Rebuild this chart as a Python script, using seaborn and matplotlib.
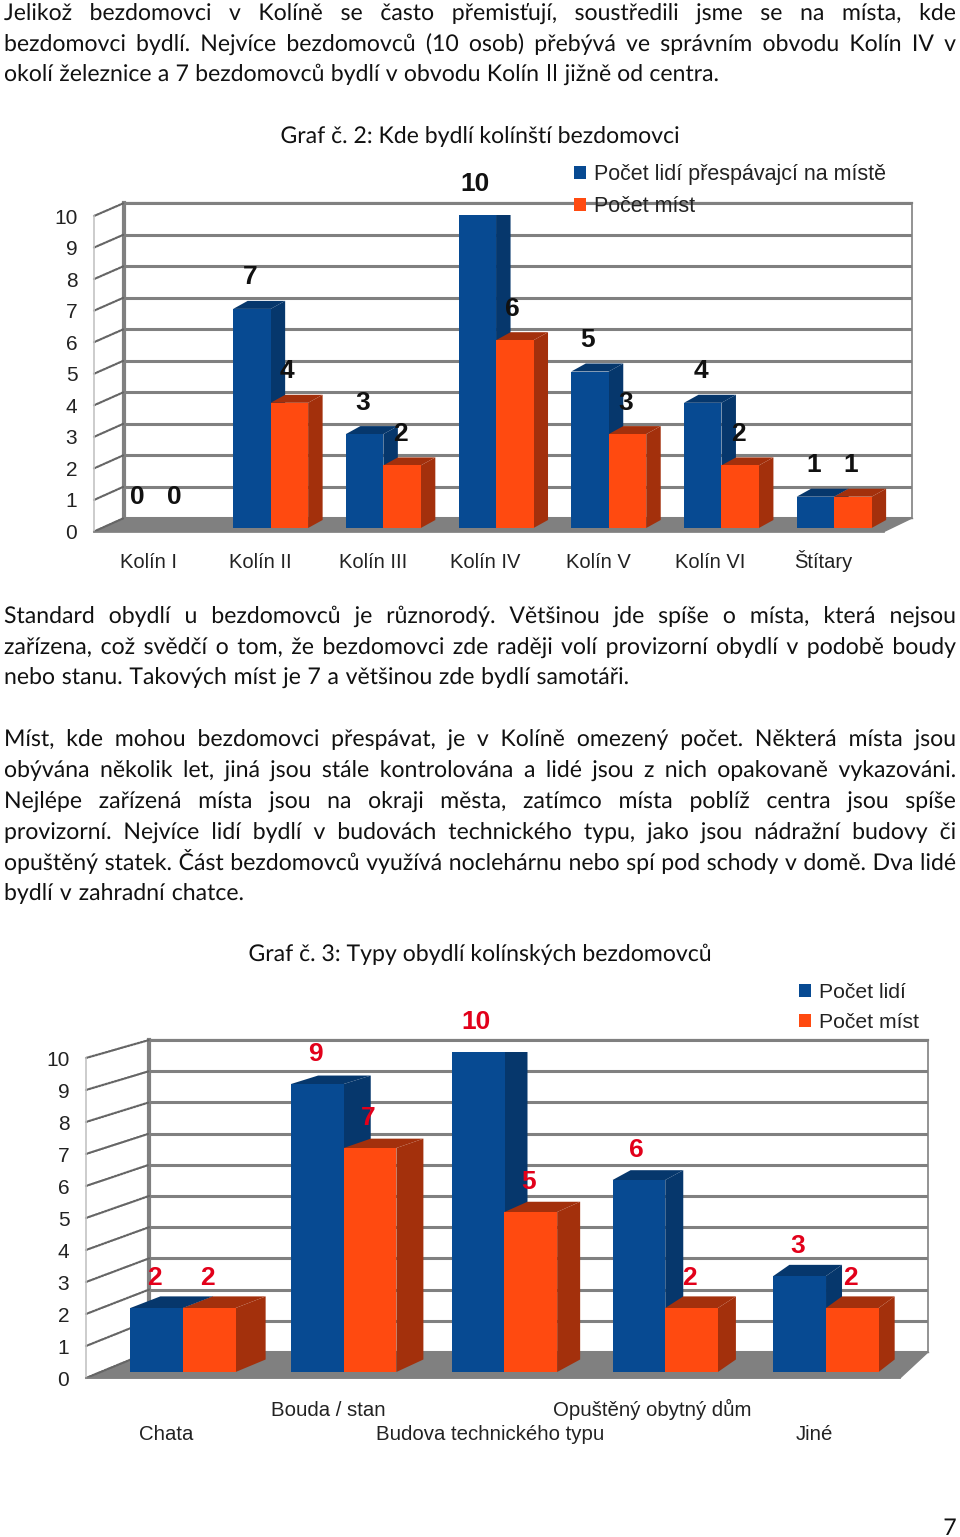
import matplotlib
matplotlib.use("Agg")
import matplotlib.pyplot as plt
import matplotlib.patheffects as pe
from matplotlib.patches import ConnectionPatch, Polygon
import pandas as pd
import seaborn as sns

# data of the two charts
kat_obvody = ["Kolín I", "Kolín II", "Kolín III", "Kolín IV", "Kolín V", "Kolín VI", "Štítary"]
lide_obvody = [0, 7, 3, 10, 5, 4, 1]
mista_obvody = [0, 4, 2, 6, 3, 2, 1]
serie_obvody = ["Počet lidí přespávajcí na místě", "Počet míst"]

kat_typy = ["Chata", "Bouda / stan", "Budova technického typu", "Opuštěný obytný dům", "Jiné"]
lide_typy = [2, 9, 10, 6, 3]
mista_typy = [2, 7, 5, 2, 2]
serie_typy = ["Počet lidí", "Počet míst"]

osa_y = list(range(11))

# page text: text, y of baseline, right end (None = justified to the margin)
radky = [
    ("Jelikož bezdomovci v Kolíně se často přemisťují, soustředili jsme se na místa, kde", 20, None),
    ("bezdomovci bydlí. Nejvíce bezdomovců (10 osob) přebývá ve správním obvodu Kolín IV v", 51, None),
    ("okolí železnice a 7 bezdomovců bydlí v obvodu Kolín II jižně od centra.", 81, 719),
    ("Standard obydlí u bezdomovců je různorodý. Většinou jde spíše o místa, která nejsou", 623, None),
    ("zařízena, což svědčí o tom, že bezdomovci zde raději volí provizorní obydlí v podobě boudy", 654, None),
    ("nebo stanu. Takových míst je 7 a většinou zde bydlí samotáři.", 684, 629),
    ("Míst, kde mohou bezdomovci přespávat, je v Kolíně omezený počet. Některá místa jsou", 746, None),
    ("obývána několik let, jiná jsou stále kontrolována a lidé jsou z nich opakovaně vykazováni.", 777, None),
    ("Nejlépe zařízená místa jsou na okraji města, zatímco místa poblíž centra jsou spíše", 808, None),
    ("provizorní. Nejvíce lidí bydlí v budovách technického typu, jako jsou nádražní budovy či", 839, None),
    ("opuštěný statek. Část bezdomovců využívá noclehárnu nebo spí pod schody v domě. Dva lidé", 870, None),
    ("bydlí v zahradní chatce.", 900, 244),
]

W, H = 960, 1537
MODRA, MODRA_BOK = "#074a92", "#06376c"
ORANZ, ORANZ_BOK = "#ff4a10", "#a3300c"
SEDA = "#808080"

sns.set_style("white")
plt.rcParams["font.family"] = ["Liberation Sans", "DejaVu Sans"]

fig = plt.figure(figsize=(W / 100, H / 100), dpi=100)


def px_axes(x0, x1, ytop, ybot, z):
    ax = fig.add_axes([x0 / W, 1 - ybot / H, (x1 - x0) / W, (ybot - ytop) / H], zorder=z)
    ax.patch.set_alpha(0)
    return ax


page = px_axes(0, W, 0, H, 2)
page.set_xlim(0, W)
page.set_ylim(H, 0)
page.axis("off")


def graf(kat, hodnoty1, hodnoty2, serie, g, barva_popisku):
    # back wall with the grid
    wall = px_axes(g["wx0"], g["wx1"], g["wy10"], g["wy0"], 1)
    wall.set_ylim(0, 10)
    wall.set_xticks([])
    wall.set_yticks(osa_y)
    wall.set_yticklabels([])
    wall.tick_params(length=0)
    wall.grid(axis="y", color=SEDA, lw=2.2)
    for s, lw in (("left", 3), ("top", 1.6), ("right", 1.2), ("bottom", 1)):
        wall.spines[s].set_visible(True)
        wall.spines[s].set_color(SEDA)
        wall.spines[s].set_linewidth(lw)

    # floor
    page.add_patch(Polygon([(g["fx0"], g["fy0"]), (g["fx1"], g["fy0"]), (g["wx1"], g["wy0"]), (g["wx0"], g["wy0"])],
                           closed=True, fc=SEDA, ec=SEDA, lw=1))

    # front plane: value axis and category labels
    front = px_axes(g["fx0"], g["fx1"], g["fy10"], g["fy0"], 3)
    front.set_ylim(0, 10)
    front.set_yticks(osa_y)
    front.set_yticklabels([str(v) for v in osa_y], fontsize=g["fs_osa"], color="#222222")
    front.set_xlim((g["fx0"] - g["lab0"]) / g["lab_krok"], (g["fx1"] - g["lab0"]) / g["lab_krok"])
    front.set_xticks(range(len(kat)))
    front.set_xticklabels(kat, fontsize=g["fs_kat"], color="#222222", va="baseline")
    front.tick_params(axis="y", length=0, pad=g["pad_y"])
    front.tick_params(axis="x", length=0)
    for i, t in enumerate(front.xaxis.get_major_ticks()):
        t.set_pad(g["pad_x"][i % len(g["pad_x"])])
    for s in ("top", "right"):
        front.spines[s].set_visible(False)
    front.spines["left"].set_color("#c4c4c4")
    front.spines["left"].set_linewidth(1.2)
    front.spines["bottom"].set_color(SEDA)
    front.spines["bottom"].set_linewidth(1.2)
    for v in osa_y:
        fig.add_artist(ConnectionPatch((0, v), (0, v), coordsA=front.get_yaxis_transform(),
                                       coordsB=wall.get_yaxis_transform(), color="#666666",
                                       lw=1.6, ls=(0, (0.8, 0.7)), zorder=2.5))

    # bars
    df = pd.DataFrame({
        "kat": kat * 2,
        "pocet": hodnoty1 + hodnoty2,
        "serie": [serie[0]] * len(kat) + [serie[1]] * len(kat),
    })
    bars = px_axes(g["bx0"], g["bx1"], g["by10"], g["by0"], 4)
    sns.barplot(data=df, x="kat", y="pocet", hue="serie", order=kat, hue_order=serie,
                palette=[MODRA, ORANZ], width=g["sirka"], gap=0, saturation=1, linewidth=0, ax=bars)
    bars.set_xlim(-0.5, len(kat) - 0.5)
    bars.set_ylim(0, 10)
    bars.axis("off")
    krok_x = (g["bx1"] - g["bx0"]) / len(kat)
    krok_y = (g["by0"] - g["by10"]) / 10
    for n, (cont, bok) in enumerate(zip(bars.containers, (MODRA_BOK, ORANZ_BOK))):
        z = 3 + 2 * n
        for i, p in enumerate(cont):
            h = p.get_height()
            p.set_zorder(z + 1)
            if h == 0:
                continue
            x0, x1 = p.get_x(), p.get_x() + p.get_width()
            # the depth of the bars shrinks with the perspective of the picture
            dx = g["hloubka_x"][i % len(g["hloubka_x"])] / krok_x
            dy0 = g["dy0"] / krok_y
            dy = (g["dy0"] - g["dy_sklon"] * h) / krok_y
            bars.add_patch(Polygon([(x1, 0), (x1 + dx, dy0), (x1 + dx, h + dy), (x1, h)], closed=True,
                                   fc=bok, lw=0, zorder=z))
            bars.add_patch(Polygon([(x0, h), (x0 + dx, h + dy), (x1 + dx, h + dy), (x1, h)], closed=True,
                                   fc=bok, lw=0, zorder=z))
        for t in bars.bar_label(cont, fmt="%d", padding=g["pad_lab"], fontsize=g["fs_lab"], fontweight="bold",
                                color=barva_popisku):
            t.set_zorder(10)
            t.set_clip_on(False)
            t.xyann = (t.xyann[0] - 1.5, t.xyann[1])

    sns.move_legend(bars, "upper left", bbox_to_anchor=(g["leg_x"] / W, 1 - g["leg_y"] / H),
                    bbox_transform=fig.transFigure, title=None, frameon=False, fontsize=g["fs_leg"],
                    handlelength=0.56, handleheight=0.56, handletextpad=0.37, labelspacing=0.5,
                    borderpad=0, borderaxespad=0, labelcolor="#222222")


graf(kat_obvody, lide_obvody, mista_obvody, serie_obvody,
     dict(wx0=124, wx1=912, wy10=203, wy0=518, fx0=94, fx1=884, fy10=216, fy0=531.5,
          bx0=101.6, bx1=890.5, by10=215, by0=528, lab0=148, lab_krok=112.5,
          sirka=0.665, hloubka_x=[14.5], dy0=8, dy_sklon=0, pad_x=[26], pad_y=12, pad_lab=14, fs_lab=19,
          fs_osa=15, fs_kat=14.5, fs_leg=15.5, leg_x=574, leg_y=164), "#111111")

graf(kat_typy, lide_typy, mista_typy, serie_typy,
     dict(wx0=149, wx1=928, wy10=1040, wy0=1352, fx0=86, fx1=900, fy10=1058, fy0=1378,
          bx0=102.6, bx1=906.4, by10=1052, by0=1372, lab0=166, lab_krok=162.2,
          sirka=0.655, hloubka_x=[30, 27, 23, 18, 16], dy0=12.5, dy_sklon=0.45, pad_x=[45, 27], pad_y=12,
          pad_lab=13, fs_lab=19, fs_osa=15, fs_kat=14.7, fs_leg=15.2, leg_x=799, leg_y=983), "#e2001a")

# running text of the page, drawn as paths so all words of a line share one baseline
R = fig.canvas.get_renderer()
TEXT = dict(family=["Lato", "DejaVu Sans"], fontsize=16.6, color="#111111", va="baseline",
            path_effects=[pe.Normal()])


def sirka_slova(s):
    t = page.text(0, 0, s, **TEXT)
    w = t.get_window_extent(R).width
    t.remove()
    return w


for radek, y, konec in radky:
    slova = radek.split()
    sirky = [sirka_slova(s) for s in slova]
    x_kon = 956 if konec is None else konec
    mezera = (x_kon - 4 - sum(sirky)) / (len(slova) - 1)
    x = 4
    for s, w in zip(slova, sirky):
        page.text(x, y, s, **TEXT)
        x += w + mezera

page.text(480, 143, "Graf č. 2: Kde bydlí kolínští bezdomovci", ha="center", **TEXT)
page.text(480, 961, "Graf č. 3: Typy obydlí kolínských bezdomovců", ha="center", **TEXT)
page.text(950, 1535, "7", ha="center", **TEXT)

fig.savefig("out.png", dpi=100)
